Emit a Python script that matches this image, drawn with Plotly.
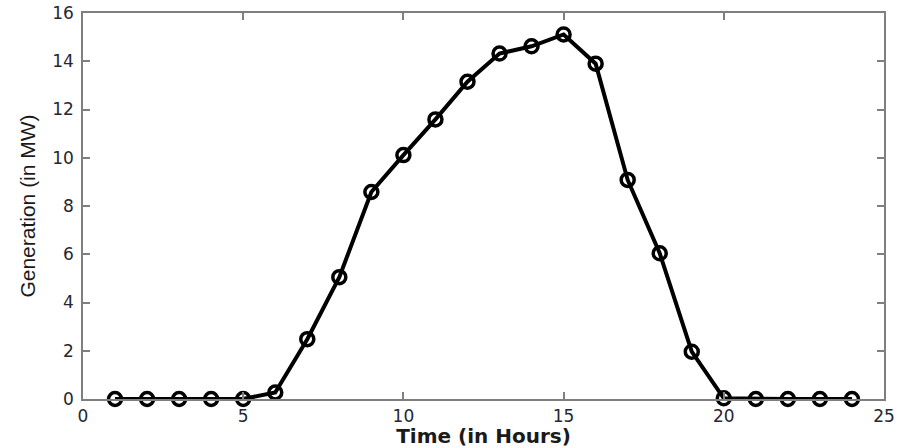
import plotly.graph_objects as go

hours = list(range(1, 25))
generation = [0, 0, 0, 0, 0, 0.27, 2.48, 5.05, 8.58, 10.11, 11.59, 13.15,
              14.32, 14.62, 15.11, 13.9, 9.08, 6.04, 1.96, 0.03, 0, 0, 0, 0]

x_ticks = [0, 5, 10, 15, 20, 25]
y_ticks = [0, 2, 4, 6, 8, 10, 12, 14, 16]

fig = go.Figure()
fig.add_trace(go.Scatter(
    x=hours, y=generation, mode="lines+markers",
    line=dict(color="black", width=4),
    marker=dict(symbol="circle-open", size=13, color="black",
                line=dict(color="black", width=3.5)),
    cliponaxis=False,
    showlegend=False,
))

axis_common = dict(
    showline=True, linecolor="#7f7f7f", linewidth=1.5, mirror="ticks",
    ticks="inside", ticklen=7, tickcolor="#7f7f7f", tickwidth=1.5,
    showgrid=False, zeroline=False, automargin=False,
    tickfont=dict(family="DejaVu Sans", size=17, color="#262630"),
)

fig.update_layout(
    width=901, height=448,
    margin=dict(l=83, r=17, t=13, b=49),
    paper_bgcolor="white", plot_bgcolor="white",
    xaxis=dict(range=[0, 25], tickvals=x_ticks,
               title=dict(text="<b>Time (in Hours)</b>",
                          font=dict(family="DejaVu Sans", size=20, color="#1a1a1a"),
                          standoff=1),
               ticklabelstandoff=1,
               **axis_common),
    yaxis=dict(range=[0, 16], tickvals=y_ticks,
               title=dict(text="Generation (in MW)",
                          font=dict(family="Liberation Sans Narrow, Liberation Sans", size=21, color="#1a1a1a"),
                          standoff=11),
               ticklabelstandoff=4,
               **axis_common),
)

fig.write_html("out.html")
